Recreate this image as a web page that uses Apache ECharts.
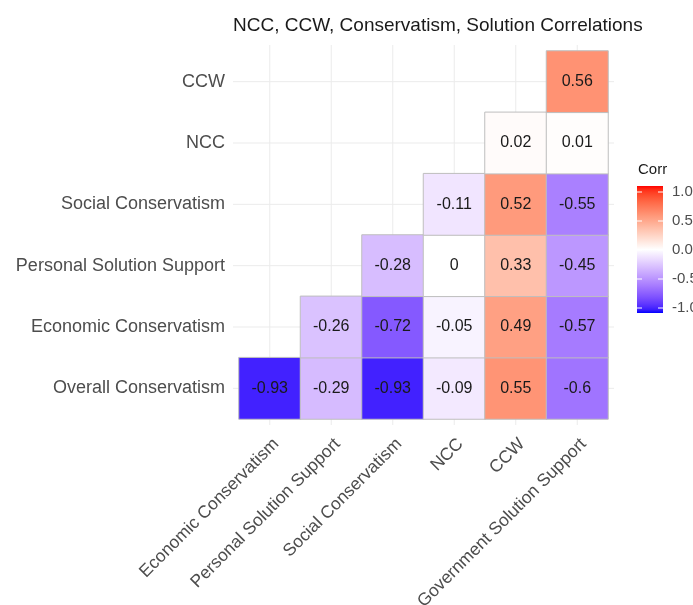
<!DOCTYPE html>
<html>
<head>
<meta charset="utf-8">
<script src="https://cdn.jsdelivr.net/npm/echarts@6/dist/echarts.min.js"></script>
<style>
  html, body { margin: 0; padding: 0; background: #fff; }
  #chart { width: 693px; height: 605px; }
</style>
</head>
<body>
<div id="chart"></div>
<script>
// Column and row variables of the correlation matrix (lower triangle)
const xCategories = ['Economic Conservatism', 'Personal Solution Support', 'Social Conservatism', 'NCC', 'CCW', 'Government Solution Support'];
const yCategories = ['Overall Conservatism', 'Economic Conservatism', 'Personal Solution Support', 'Social Conservatism', 'NCC', 'CCW'];

// Correlations per row, in the column order above (null = not shown)
const rowOverallConservatism  = [-0.93, -0.29, -0.93, -0.09, 0.55, -0.6];
const rowEconomicConservatism = [null, -0.26, -0.72, -0.05, 0.49, -0.57];
const rowPersonalSolution     = [null, null, -0.28, 0, 0.33, -0.45];
const rowSocialConservatism   = [null, null, null, -0.11, 0.52, -0.55];
const rowNCC                  = [null, null, null, null, 0.02, 0.01];
const rowCCW                  = [null, null, null, null, null, 0.56];

const legendTicks = [1.0, 0.5, 0.0, -0.5, -1.0];

const rows = [rowOverallConservatism, rowEconomicConservatism, rowPersonalSolution, rowSocialConservatism, rowNCC, rowCCW];
const cells = [];
rows.forEach((row, yi) => {
  row.forEach((v, xi) => {
    if (v !== null) cells.push([xi, yi, v]);
  });
});

// Blue - white - red diverging ramp, interpolated in CIELAB
function toLin(c) { c /= 255; return c <= 0.04045 ? c / 12.92 : Math.pow((c + 0.055) / 1.055, 2.4); }
function toSrgb(c) { c = Math.max(0, Math.min(1, c)); return Math.round(255 * (c <= 0.0031308 ? 12.92 * c : 1.055 * Math.pow(c, 1 / 2.4) - 0.055)); }
const WX = 0.95047, WY = 1.0, WZ = 1.08883;
function fLab(t) { return t > 216 / 24389 ? Math.cbrt(t) : (24389 / 27 * t + 16) / 116; }
function fInv(t) { return t * t * t > 216 / 24389 ? t * t * t : (116 * t - 16) / (24389 / 27); }
function rgbToLab(hex) {
  const r = toLin(parseInt(hex.slice(1, 3), 16)), g = toLin(parseInt(hex.slice(3, 5), 16)), b = toLin(parseInt(hex.slice(5, 7), 16));
  const X = 0.4124564 * r + 0.3575761 * g + 0.1804375 * b;
  const Y = 0.2126729 * r + 0.7151522 * g + 0.0721750 * b;
  const Z = 0.0193339 * r + 0.1191920 * g + 0.9503041 * b;
  const fx = fLab(X / WX), fy = fLab(Y / WY), fz = fLab(Z / WZ);
  return [116 * fy - 16, 500 * (fx - fy), 200 * (fy - fz)];
}
function labToRgb(lab) {
  const fy = (lab[0] + 16) / 116, fx = fy + lab[1] / 500, fz = fy - lab[2] / 200;
  const X = WX * fInv(fx), Y = WY * fInv(fy), Z = WZ * fInv(fz);
  const r = 3.2404542 * X - 1.5371385 * Y - 0.4985314 * Z;
  const g = -0.9692660 * X + 1.8760108 * Y + 0.0415560 * Z;
  const b = 0.0556434 * X - 0.2040259 * Y + 1.0572252 * Z;
  return 'rgb(' + toSrgb(r) + ',' + toSrgb(g) + ',' + toSrgb(b) + ')';
}
const labLow = rgbToLab('#0000ff'), labMid = rgbToLab('#ffffff'), labHigh = rgbToLab('#ff0000');
function rampColor(v) {
  const t = Math.abs(v);
  const end = v < 0 ? labLow : labHigh;
  return labToRgb([0, 1, 2].map(k => labMid[k] + (end[k] - labMid[k]) * t));
}
const rampStops = [];
for (let i = 0; i <= 40; i++) rampStops.push(rampColor(-1 + i * 0.05));

const FONT = '"Liberation Sans", Arial, sans-serif';
const chart = echarts.init(document.getElementById('chart'), null, { renderer: 'canvas' });

// Colour bar legend
const barTop = 186, barBottom = 313, barLeft = 637, barWidth = 26;
const valToY = v => 192 + (1 - v) / 2 * 116;
const legendGraphics = [
  { type: 'text', left: 638, top: 162, style: { text: 'Corr', font: '15px ' + FONT, fill: '#1a1a1a' } },
  {
    type: 'rect', shape: { x: barLeft, y: barTop, width: barWidth, height: barBottom - barTop },
    style: {
      fill: new echarts.graphic.LinearGradient(0, 0, 0, 1,
        rampStops.slice().reverse().map((c, i, arr) => ({ offset: i / (arr.length - 1), color: c })))
    }
  }
];
legendTicks.forEach(v => {
  const y = valToY(v);
  legendGraphics.push({ type: 'line', shape: { x1: barLeft, y1: y, x2: barLeft + 5, y2: y }, style: { stroke: '#fff', lineWidth: 1 } });
  legendGraphics.push({ type: 'line', shape: { x1: barLeft + barWidth - 5, y1: y, x2: barLeft + barWidth, y2: y }, style: { stroke: '#fff', lineWidth: 1 } });
  legendGraphics.push({
    type: 'text', x: 672, y: y,
    style: { text: v.toFixed(1), font: '15px ' + FONT, fill: '#4d4d4d', verticalAlign: 'middle', align: 'left' }
  });
});

const option = {
  backgroundColor: '#ffffff',
  animation: false,
  title: {
    text: 'NCC, CCW, Conservatism, Solution Correlations',
    left: 233, top: 16, padding: 0,
    textStyle: { fontFamily: FONT, fontSize: 19, fontWeight: 'normal', color: '#1a1a1a' }
  },
  grid: { left: 239, top: 51, width: 369, height: 368, containLabel: false, outerBoundsMode: 'none' },
  xAxis: {
    type: 'category', data: xCategories,
    axisLine: { show: false }, axisTick: { show: false }, splitLine: { show: false },
    axisLabel: {
      interval: 0, rotate: 45, margin: 16, align: 'right', verticalAlign: 'top',
      fontFamily: FONT, fontSize: 17.5, color: '#4d4d4d'
    }
  },
  yAxis: {
    type: 'category', data: yCategories,
    axisLine: { show: false }, axisTick: { show: false }, splitLine: { show: false },
    axisLabel: { interval: 0, margin: 14, fontFamily: FONT, fontSize: 18, color: '#4d4d4d' }
  },
  visualMap: {
    type: 'continuous', show: false, min: -1, max: 1, dimension: 2, seriesIndex: 1,
    inRange: { color: rampStops }
  },
  graphic: legendGraphics,
  series: [
    {
      // Panel grid lines through each category centre
      type: 'custom', z: 1, silent: true,
      data: xCategories.map((c, i) => [i, i]),
      renderItem: function (params, api) {
        const cs = params.coordSys;
        const x = api.coord([api.value(0), 0])[0];
        const y = api.coord([0, api.value(1)])[1];
        const style = { stroke: '#ebebeb', lineWidth: 1 };
        return {
          type: 'group',
          children: [
            { type: 'line', shape: { x1: x, y1: cs.y - 6, x2: x, y2: cs.y + cs.height + 6 }, style: style },
            { type: 'line', shape: { x1: cs.x - 6, y1: y, x2: cs.x + cs.width + 6, y2: y }, style: style }
          ]
        };
      }
    },
    {
      type: 'heatmap', z: 2,
      data: cells,
      itemStyle: { borderColor: '#bebebe', borderWidth: 1 },
      label: {
        show: true, fontFamily: FONT, fontSize: 16, color: '#1a1a1a',
        formatter: p => String(p.value[2])
      },
      emphasis: { disabled: true }
    }
  ]
};
chart.setOption(option);
</script>
</body>
</html>
